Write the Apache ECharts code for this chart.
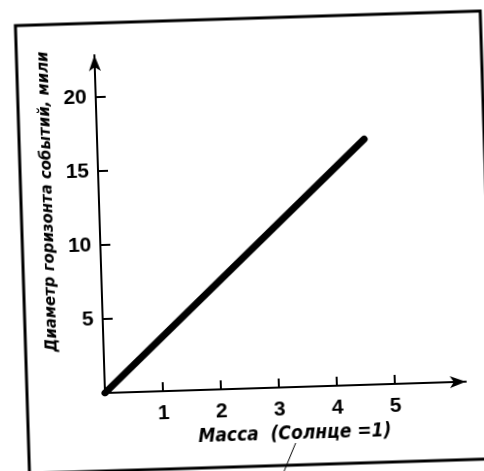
<!DOCTYPE html>
<html>
<head>
<meta charset="utf-8">
<script src="https://cdn.jsdelivr.net/npm/echarts@6/dist/echarts.min.js"></script>
<style>
  html, body { margin: 0; padding: 0; background: #fff; width: 484px; height: 471px; overflow: hidden; }
  #chart {
    position: absolute; left: 0; top: 0; width: 520px; height: 500px;
    transform: rotate(-1.8deg); transform-origin: 105px 393px;
  }
</style>
</head>
<body>
<div id="chart"></div>
<script>
// Event-horizon diameter of a black hole versus its mass
const mass = [0, 4.6];            // solar masses
const diameter = [0, 16.6];       // miles
const xTicks = [1, 2, 3, 4, 5];
const yTicks = [5, 10, 15, 20];
const xMax = 6.22;
const yMax = 22.84;
const xTitle = 'Масса  (Солнце =1)';
const yTitle = 'Диаметр горизонта событий, мили';

const ink = '#000';
const narrow = "'Liberation Sans Narrow', 'DejaVu Sans Condensed', sans-serif";

const chart = echarts.init(document.getElementById('chart'), null, { renderer: 'canvas' });

chart.setOption({
  backgroundColor: '#fff',
  animation: false,
  grid: { left: 105, top: 55, width: 361, height: 338 },
  xAxis: {
    type: 'value', min: 0, max: xMax,
    splitLine: { show: false },
    axisLine: { lineStyle: { color: ink, width: 2 }, symbol: ['none', 'arrow'], symbolSize: [9, 16] },
    axisTick: { inside: true, length: 9, lineStyle: { color: ink, width: 2 }, customValues: xTicks },
    axisLabel: { customValues: xTicks, margin: 12, color: ink, fontSize: 21, fontWeight: 'bold', fontFamily: 'Liberation Sans' },
    name: xTitle, nameLocation: 'middle', nameGap: 31,
    nameTextStyle: { color: ink, fontSize: 19, fontStyle: 'italic', fontWeight: 'bold', fontFamily: narrow, padding: [0, 0, 0, 16] }
  },
  yAxis: {
    type: 'value', min: 0, max: yMax,
    splitLine: { show: false },
    axisLine: { lineStyle: { color: ink, width: 2 }, symbol: ['none', 'arrow'], symbolSize: [9, 16] },
    axisTick: { inside: true, length: 10, lineStyle: { color: ink, width: 2 }, customValues: yTicks },
    axisLabel: { customValues: yTicks, margin: 9, color: ink, fontSize: 21, fontWeight: 'bold', fontFamily: 'Liberation Sans' },
    name: yTitle, nameLocation: 'middle', nameGap: 39, nameRotate: 90,
    nameTextStyle: { color: ink, fontSize: 16.6, fontStyle: 'italic', fontWeight: 'bold', fontFamily: narrow, padding: [0, 0, 0, 48] }
  },
  series: [{
    type: 'line',
    data: mass.map((m, i) => [m, diameter[i]]),
    symbol: 'none',
    lineStyle: { color: ink, width: 7, cap: 'round' }
  }],
  graphic: [
    { type: 'rect', shape: { x: 27, y: 23, width: 465, height: 448 },
      style: { fill: 'none', stroke: ink, lineWidth: 3 } },
    { type: 'line', shape: { x1: 294, y1: 449, x2: 281, y2: 478 },
      style: { stroke: ink, lineWidth: 1 } }
  ]
});
</script>
</body>
</html>
